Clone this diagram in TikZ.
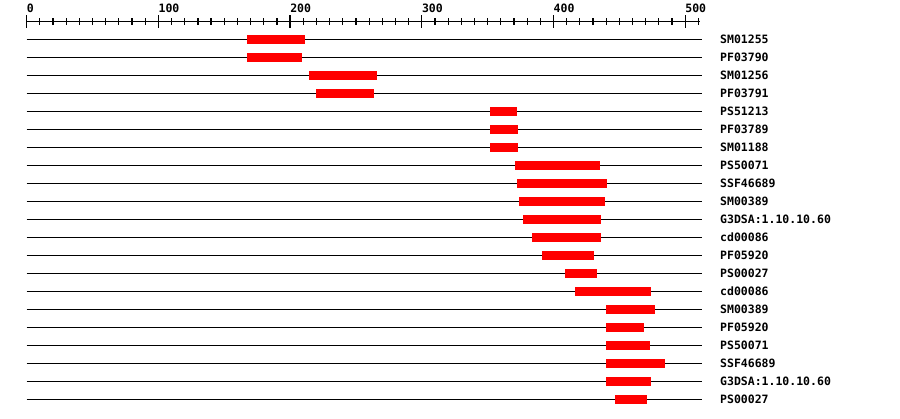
\documentclass[tikz,border=0pt]{standalone}
\usepackage{fontspec}
\setmonofont{DejaVu Sans Mono}
\usepackage{tikz}
\usetikzlibrary{positioning}

\begin{document}
\begin{tikzpicture}[x=1.317pt,y=-1pt,
                    lab/.style={font=\ttfamily\bfseries\fontsize{11.5}{12}\selectfont,inner sep=0pt},
                    hit/.style={fill=red},
                    track/.style={line width=1.5pt},
                    tick/.style={line width=1.2pt}]

 \useasboundingbox[fill=white] (-20.27,0) rectangle (663.1,418);

 % scale
 \draw[track] (0,21.7) -- (511,21.7);
 \foreach \tk in {0,10,...,510} \draw[tick] (\tk,18.3) -- (\tk,25);
 \foreach \tk in {0,100,...,500} {
   \draw[tick] (\tk,15) -- (\tk,28);
   \node[lab,anchor=base west] (t\tk) at (\tk,12.3) {\tk};
 }

 % matches
 \foreach \name/\from/\to [count=\i from 0] in {
     SM01255/167/211, PF03790/167/209, SM01256/214/266, PF03791/220/264,
     PS51213/352/372, PF03789/352/373, SM01188/352/373, PS50071/371/435,
     SSF46689/372/441, SM00389/374/439, G3DSA:1.10.10.60/377/436,
     cd00086/384/436, PF05920/391/431, PS00027/409/433, cd00086/416/474,
     SM00389/440/477, PF05920/440/469, PS50071/440/473, SSF46689/440/485,
     G3DSA:1.10.10.60/440/474, PS00027/447/471} {
   \coordinate (r\i) at (0,39.3+18*\i);
   \draw[track] (r\i) -- ++(512.5,0);
   \fill[hit] (\from,39.3+18*\i-4.5) rectangle (\to,39.3+18*\i+4.5);
   \node[lab,anchor=base west] (n\i) at (526.4,43.5+18*\i) {\name};
 }
\end{tikzpicture}
\end{document}
